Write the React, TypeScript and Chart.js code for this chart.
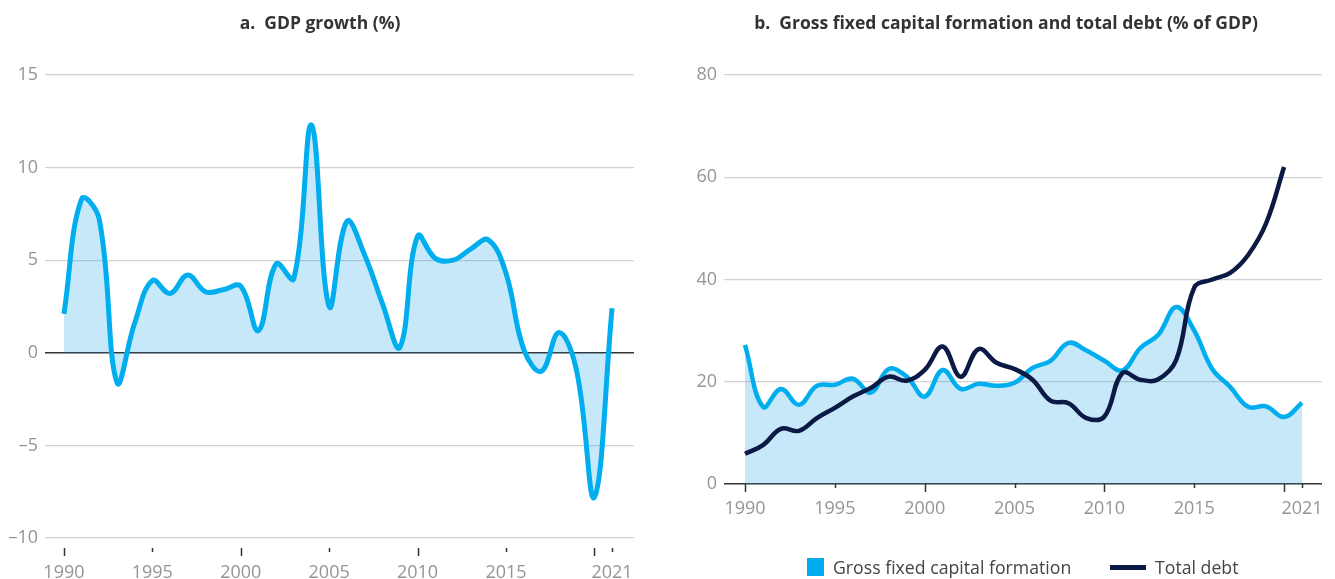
import React, { useEffect, useRef } from "react";
import { Chart, registerables } from "chart.js";

Chart.register(...registerables);
Chart.defaults.font.family = "'Open Sans', 'Noto Sans', sans-serif";

const years = [1990, 1991, 1992, 1993, 1994, 1995, 1996, 1997, 1998, 1999, 2000, 2001, 2002, 2003, 2004, 2005, 2006, 2007, 2008, 2009, 2010, 2011, 2012, 2013, 2014, 2015, 2016, 2017, 2018, 2019, 2020, 2021];

const gdpGrowth = [2.1, 8.3, 7.2, -1.6, 1.6, 3.9, 3.2, 4.2, 3.3, 3.4, 3.6, 1.2, 4.8, 4.0, 12.3, 2.5, 7.1, 5.3, 2.7, 0.3, 6.3, 5.1, 5.0, 5.6, 6.1, 4.3, 0.2, -1.0, 1.1, -1.0, -7.8, 2.4];

const grossFixedCapital = [27.2, 15.1, 18.6, 15.5, 19.2, 19.4, 20.6, 17.9, 22.5, 21.0, 17.1, 22.3, 18.6, 19.6, 19.2, 19.8, 22.7, 24.1, 27.6, 26.1, 24.1, 22.2, 26.6, 29.2, 34.6, 30.0, 22.5, 19.0, 15.1, 15.2, 13.1, 15.9];

const totalDebt = [5.9, 7.6, 10.8, 10.4, 12.9, 14.9, 17.1, 18.8, 21.0, 20.2, 22.3, 26.9, 21.0, 26.4, 23.7, 22.5, 20.4, 16.3, 15.8, 12.9, 13.2, 21.7, 20.4, 20.5, 24.3, 38.4, 40.0, 41.3, 44.8, 51.0, 62.0];

const tickYears = [1990, 1995, 2000, 2005, 2010, 2015, 2020, 2021];
const labeledYears = [1990, 1995, 2000, 2005, 2010, 2015, 2021];
const majorTickYears = [1990, 2000, 2010, 2020];

const gdpTicks = [-10, -5, 0, 5, 10, 15];
const shareTicks = [0, 20, 40, 60, 80];

const titleA = "a.  GDP growth (%)";
const titleB = "b.  Gross fixed capital formation and total debt (% of GDP)";
const legendGfcf = "Gross fixed capital formation";
const legendDebt = "Total debt";

const CYAN = "#00aeef";
const FILL = "rgba(20, 160, 228, 0.24)";
const NAVY = "#0b1a45";
const TICK_GRAY = "#959595";

function fmt(v: number) {
  return v < 0 ? "\u2013" + Math.abs(v) : String(v);
}

function makeTickMarks(offset: number, majorLen: number, minorLen: number) {
  return {
    id: "tickMarks",
    afterDraw(chart: any) {
      const { ctx, chartArea } = chart;
      const x = chart.scales.x;
      ctx.save();
      ctx.strokeStyle = "#333";
      ctx.lineWidth = 1.5;
      for (const t of tickYears) {
        const px = Math.round(x.getPixelForValue(t)) + 0.5;
        const len = majorTickYears.includes(t) ? majorLen : minorLen;
        ctx.beginPath();
        ctx.moveTo(px, chartArea.bottom + offset);
        ctx.lineTo(px, chartArea.bottom + offset + len);
        ctx.stroke();
      }
      ctx.restore();
    },
  };
}

function xScale(min: number, max: number, height: number, labelGap: number) {
  return {
    type: "linear",
    min,
    max,
    afterBuildTicks: (scale: any) => {
      scale.ticks = tickYears.map((v) => ({ value: v }));
    },
    afterFit: (scale: any) => {
      scale.height = height;
    },
    grid: { display: false, drawTicks: true, tickLength: labelGap },
    border: { display: false },
    ticks: {
      autoSkip: false,
      maxRotation: 0,
      minRotation: 0,
      padding: 0,
      color: TICK_GRAY,
      font: { size: 18 },
      callback: (v: any) => (labeledYears.includes(Number(v)) ? String(v) : ""),
    },
  };
}

function yScale(min: number, max: number, tickVals: number[], width: number) {
  return {
    type: "linear",
    min,
    max,
    afterBuildTicks: (scale: any) => {
      scale.ticks = tickVals.map((v) => ({ value: v }));
    },
    afterFit: (scale: any) => {
      scale.width = width;
    },
    border: { display: false },
    grid: {
      drawTicks: false,
      color: (c: any) => (c.tick && c.tick.value === 0 ? "#333333" : "#d2d2d2"),
      lineWidth: (c: any) => (c.tick && c.tick.value === 0 ? 1.6 : 1.2),
    },
    ticks: {
      padding: 7,
      color: TICK_GRAY,
      font: { size: 18 },
      callback: (v: any) => fmt(Number(v)),
    },
  };
}

function GdpChart() {
  const ref = useRef<HTMLCanvasElement>(null);
  useEffect(() => {
    if (!ref.current) return;
    const chart = new Chart(ref.current, {
      type: "line",
      data: {
        datasets: [
          {
            label: "GDP growth",
            data: years.map((yr, i) => ({ x: yr, y: gdpGrowth[i] })),
            borderColor: CYAN,
            backgroundColor: FILL,
            borderWidth: 5,
            fill: "origin",
            tension: 0.4,
            pointRadius: 0,
          },
        ],
      },
      options: {
        animation: false,
        responsive: false,
        layout: { padding: { top: 75, right: 6, left: 0, bottom: 0 } },
        plugins: { legend: { display: false }, tooltip: { enabled: false }, title: { display: false } },
        scales: {
          x: xScale(1988.93, 2022.24, 41, 24),
          y: yScale(-10, 15, gdpTicks, 45),
        },
      } as any,
      plugins: [makeTickMarks(10, 8, 4)],
    });
    return () => chart.destroy();
  }, []);
  return <canvas ref={ref} width={640} height={579} style={{ position: "absolute", left: 0, top: 0 }} />;
}

function InvestmentChart() {
  const ref = useRef<HTMLCanvasElement>(null);
  useEffect(() => {
    if (!ref.current) return;
    const chart = new Chart(ref.current, {
      type: "line",
      data: {
        datasets: [
          {
            label: legendGfcf,
            data: years.map((yr, i) => ({ x: yr, y: grossFixedCapital[i] })),
            borderColor: CYAN,
            backgroundColor: FILL,
            borderWidth: 4.5,
            fill: "origin",
            tension: 0.4,
            pointRadius: 0,
            order: 2,
          },
          {
            label: legendDebt,
            data: totalDebt.map((v, i) => ({ x: years[i], y: v })),
            borderColor: NAVY,
            backgroundColor: NAVY,
            borderWidth: 4.5,
            fill: false,
            tension: 0.4,
            pointRadius: 0,
            order: 1,
          },
        ],
      },
      options: {
        animation: false,
        responsive: false,
        layout: { padding: { top: 75, right: 10, left: 0, bottom: 0 } },
        plugins: { legend: { display: false }, tooltip: { enabled: false }, title: { display: false } },
        scales: {
          x: xScale(1988.83, 2022.11, 95, 14),
          y: yScale(0, 80, shareTicks, 44),
        },
      } as any,
      plugins: [makeTickMarks(0, 8, 4)],
    });
    return () => chart.destroy();
  }, []);
  return <canvas ref={ref} width={652} height={579} style={{ position: "absolute", left: 680, top: 0 }} />;
}

const titleStyle: React.CSSProperties = {
  position: "absolute",
  top: 10,
  textAlign: "center",
  fontFamily: "'Open Sans', 'Noto Sans', sans-serif",
  fontWeight: 700,
  fontSize: 17.5,
  lineHeight: "24px",
  color: "#333",
  whiteSpace: "pre",
};

const legendText: React.CSSProperties = {
  position: "absolute",
  top: 555,
  fontFamily: "'Open Sans', 'Noto Sans', sans-serif",
  fontSize: 17.7,
  lineHeight: "24px",
  color: "#444",
  whiteSpace: "pre",
};

export default function App() {
  return (
    <div style={{ position: "absolute", left: 0, top: 0, width: 1335, height: 579, background: "#fff", overflow: "hidden" }}>
      <GdpChart />
      <InvestmentChart />
      <div style={{ ...titleStyle, left: 0, width: 640 }}>{titleA}</div>
      <div style={{ ...titleStyle, left: 680, width: 652 }}>{titleB}</div>
      <div style={{ position: "absolute", left: 807, top: 558, width: 17, height: 18, background: CYAN }} />
      <div style={{ ...legendText, left: 833 }}>{legendGfcf}</div>
      <div style={{ position: "absolute", left: 1110, top: 565, width: 36, height: 5, background: NAVY }} />
      <div style={{ ...legendText, left: 1155 }}>{legendDebt}</div>
    </div>
  );
}
